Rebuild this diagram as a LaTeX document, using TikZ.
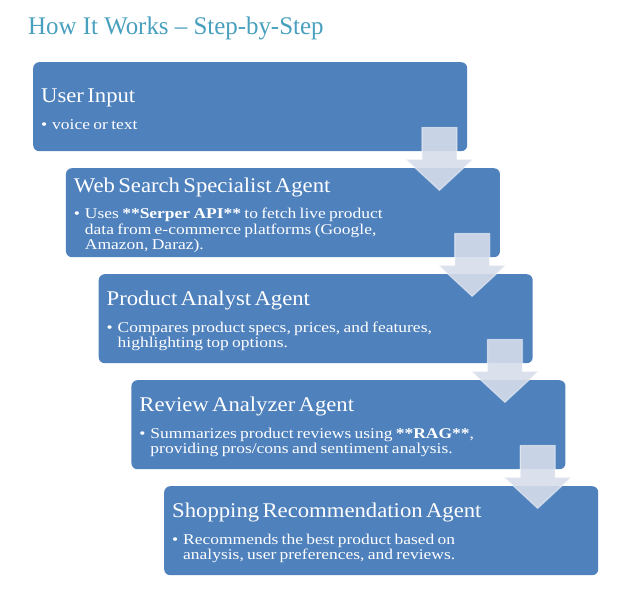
\documentclass[tikz,border=0pt]{standalone}
\usepackage{fontspec}
\setmainfont{Liberation Serif}
\newfontfamily\titleff[FakeStretch=1.085]{Liberation Serif}
\newfontfamily\bodyff[FakeStretch=1.17]{Liberation Serif}
\newfontfamily\headff[FakeStretch=0.98]{Liberation Serif}
\usetikzlibrary{calc}
\definecolor{boxblue}{RGB}{79,129,189}
\definecolor{arrowfill}{RGB}{214,221,234}
\definecolor{headteal}{RGB}{72,160,190}
\newcommand\boxtitlefont{\titleff\fontsize{21}{21}\selectfont}
\newcommand\boxbodyfont{\bodyff\fontsize{15}{26.5}\selectfont}
\newcommand\bul[1]{\makebox[11bp][l]{\textbullet}\parbox[t]{395bp}{\baselineskip=15.5bp #1}\par\vspace{-5bp}}
\tikzset{
  stepbox/.style={fill=boxblue, rounded corners=6bp, minimum width=434bp, minimum height=89bp,
    anchor=north west, inner xsep=8bp, inner ysep=0pt, text width=418bp, align=left, text=white},
  flowarrow/.style={fill=arrowfill, fill opacity=0.9, draw=white, draw opacity=0.45, line width=1.2bp},
  headtext/.style={text=headteal, font=\headff\fontsize{25.5}{25.5}\selectfont, inner sep=0pt, anchor=base west}
}
\newcommand\flowarrowfrom[1]{%
  \draw[flowarrow] ($(#1.south east)+(-45.5,24)$) -- ++(35,0) -- ++(0,-32) -- ++(16,0)
    -- ($(#1.south east)+(-28,-39)$) -- ++(-33.5,31) -- ++(16,0) -- cycle;}
\begin{document}
\begin{tikzpicture}[x=1bp,y=1bp]
\useasboundingbox (0,0) rectangle (635,-591);
\node[headtext] (title) at (28,-35) {How It Works – Step-by-Step};

\node[stepbox] (b1) at (33,-62) {{\boxtitlefont User Input\par}\boxbodyfont\bul{voice or text}};
\node[stepbox] (b2) at (65.75,-168) {{\boxtitlefont Web Search Specialist Agent\par}\boxbodyfont\bul{Uses \textbf{**Serper API**} to fetch live product\\data from e-commerce platforms (Google,\\Amazon, Daraz).}};
\node[stepbox] (b3) at (98.5,-274) {{\boxtitlefont Product Analyst Agent\par}\boxbodyfont\bul{Compares product specs, prices, and features,\\highlighting top options.}};
\node[stepbox] (b4) at (131.25,-380) {{\boxtitlefont Review Analyzer Agent\par}\boxbodyfont\bul{Summarizes product reviews using \textbf{**RAG**},\\providing pros/cons and sentiment analysis.}};
\node[stepbox] (b5) at (164,-486) {{\boxtitlefont Shopping Recommendation Agent\par}\boxbodyfont\bul{Recommends the best product based on\\analysis, user preferences, and reviews.}};

\flowarrowfrom{b1}
\flowarrowfrom{b2}
\flowarrowfrom{b3}
\flowarrowfrom{b4}
\end{tikzpicture}
\end{document}
